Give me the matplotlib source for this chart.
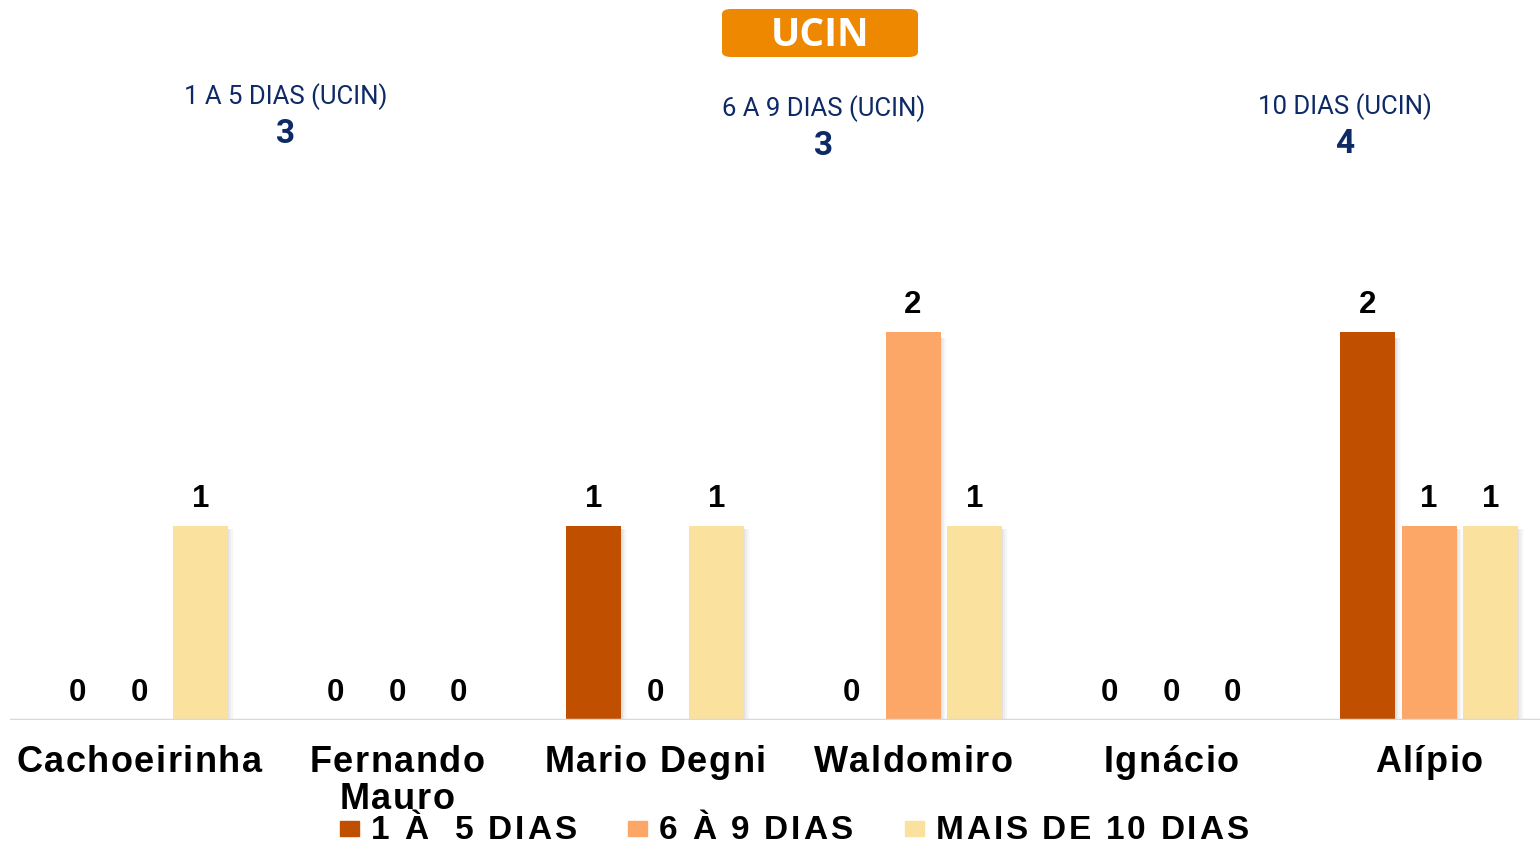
import matplotlib.pyplot as plt
from matplotlib.patches import FancyBboxPatch
from matplotlib.font_manager import FontProperties
import numpy as np

# -------------------------------------------------------------------
# Data
# -------------------------------------------------------------------
units = ["Cachoeirinha", "Fernando\nMauro", "Mario Degni", "Waldomiro", "Ignácio", "Alípio"]
series_names = ["1 À  5 DIAS", "6 À 9 DIAS", "MAIS DE 10 DIAS"]
dias_1_5 = [0, 0, 1, 0, 0, 2]
dias_6_9 = [0, 0, 0, 2, 0, 1]
dias_10 = [1, 0, 1, 1, 0, 1]

header_labels = ["1 A 5 DIAS (UCIN)", "6 A 9 DIAS (UCIN)", "10 DIAS (UCIN)"]
header_totals = [3, 3, 4]

colors = ["#C05000", "#FCA668", "#FAE29E"]
navy = "#0E2A66"

# -------------------------------------------------------------------
# Figure
# -------------------------------------------------------------------
W, H = 1540, 843
fig = plt.figure(figsize=(W / 100, H / 100), dpi=100)
renderer = fig.canvas.get_renderer()


def char_width(ch, prop):
    # advance width in px, measured between two bars so spaces count
    w1 = renderer.get_text_width_height_descent("|" + ch + "|", prop, ismath=False)[0]
    w0 = renderer.get_text_width_height_descent("||", prop, ismath=False)[0]
    return w1 - w0


def tracked_text(xc, y, s, prop, track, ha="center", color="black"):
    # xc, y in pixels from top-left; draws letters one by one with extra spacing
    widths = [char_width(c, prop) for c in s]
    total = sum(widths) + track * (len(s) - 1)
    x0 = xc - total / 2 if ha == "center" else xc
    for c, w in zip(s, widths):
        if c != " ":
            fig.text((x0 + w / 2) / W, 1 - y / H, c, ha="center", va="baseline",
                     fontproperties=prop, color=color)
        x0 += w + track


# axes: baseline at y=720px, 1 unit = 194px
ax_left, ax_right = 10 / W, 1540 / W
ax_bottom = (H - 720) / H
ax_h = (194 * 2.5) / H
ax = fig.add_axes([ax_left, ax_bottom, ax_right - ax_left, ax_h])

x = np.arange(len(units))
off = 0.238
bw = 0.213
series = [dias_1_5, dias_6_9, dias_10]

for i, (vals, col) in enumerate(zip(series, colors)):
    pos = x + (i - 1) * off
    # soft shadow on the right of the bars
    for k, a in enumerate([0.10, 0.07, 0.04, 0.02]):
        ax.bar(pos + 0.006 * (k + 1), np.array(vals) * 0.985, width=bw, color="#7f7f7f",
               alpha=a, zorder=1, linewidth=0)
    ax.bar(pos, vals, width=bw, color=col, zorder=2)
    for p, v in zip(pos, vals):
        ax.annotate(str(v), (p, v), xytext=(0, 8.5), textcoords="offset points",
                    ha="center", va="bottom", fontsize=22.5, fontweight="bold",
                    family="Liberation Sans", color="black")

ax.set_xlim(-0.5, 5.43)
ax.set_ylim(0, 2.5)
ax.axhline(0, color="#D9D9D9", linewidth=2.5, zorder=3)
ax.axis("off")

# category labels
cat_prop = FontProperties(family="Liberation Sans", weight="bold", size=26)
for xi, name in zip(x, units):
    px = ax.transData.transform((xi, 0))[0]
    for j, line in enumerate(name.split("\n")):
        tracked_text(px, 772 + j * 37, line, cat_prop, 1.5)

# legend
leg_prop = FontProperties(family="Liberation Sans", weight="bold", size=24)
leg_x = [340, 628, 905]
for lx, name, col in zip(leg_x, series_names, colors):
    fig.patches.append(plt.Rectangle((lx / W, 1 - 836 / H), 19 / W, 15 / H,
                                     transform=fig.transFigure, color=col))
    tracked_text(lx + 31, 839, name, leg_prop, 2.7, ha="left")

# banner
banner = FancyBboxPatch((722 / W, 1 - 57 / H), 196 / W, 48 / H,
                        boxstyle="round,pad=0,rounding_size=0.006",
                        transform=fig.transFigure, facecolor="#EE8800", edgecolor="none")
fig.patches.append(banner)
fig.text(820 / W, 1 - 35 / H, "UCIN", ha="center", va="center", fontsize=28,
         fontweight="bold", family="Open Sans", color="white")

# headers
head_pos = [(286, 97), (824, 109), (1345, 107)]
for (hx, hy), lab, tot in zip(head_pos, header_labels, header_totals):
    fig.text(hx / W, 1 - hy / H, lab, ha="center", va="center", fontsize=18.5,
             family="Roboto", color=navy)
    fig.text(hx / W, 1 - (hy + 37) / H, str(tot), ha="center", va="center", fontsize=24,
             fontweight="bold", family="Roboto", color=navy)

fig.savefig("out.png", dpi=100)
